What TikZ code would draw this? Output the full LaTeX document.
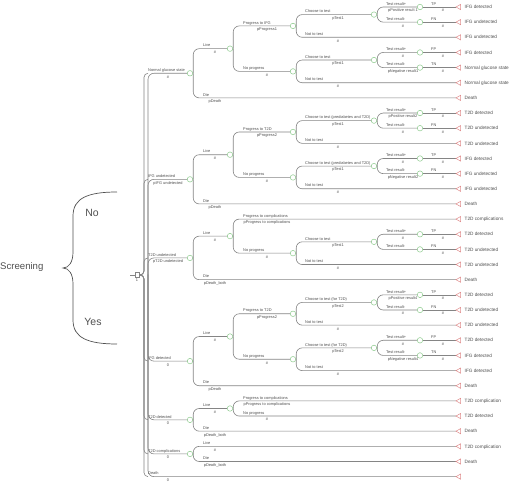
\documentclass[tikz,border=0pt]{standalone}
\usepackage{fontspec}
\setmainfont{Liberation Sans}
\definecolor{lg}{HTML}{858585}
\definecolor{tg}{HTML}{505050}
\definecolor{cg}{HTML}{8CCB8C}
\definecolor{tr}{HTML}{E08C8C}
% level geometry: label x, node x, probability centre x
\def\lxI{148}\def\nxI{190}\def\pcI{168}\def\vxI{144}
\def\lxII{203}\def\nxII{230}\def\pcII{215}
\def\lxIII{243}\def\nxIII{293}\def\pcIII{267}
\def\lxIV{305}\def\nxIV{374}\def\pcIV{338}
\def\lxV{386}\def\nxV{420}\def\pcV{403}
\def\lxVI{431}\def\pcVI{443}
\def\termx{456}
% chance branch: level, name, parent, y, label, prob
\newcommand\CB[6]{%
  \node[chance] (#2) at (\csname nx#1\endcsname,#4) {};
  \draw[ln] (#3.east) ++(0.25,0) |- (#2.west);
  \node[lab] at (\csname lx#1\endcsname,#4-1.8) {#5};
  \node[prb] at (\csname pc#1\endcsname,#4+4.9) {#6};
}
% terminal branch: level, name, parent, y, label, prob, end label
\newcommand\TB[7]{%
  \coordinate (#2) at (\termx,#4);
  \draw[ln] (#3.east) ++(0.25,0) |- (#2);
  \draw[tri] (#2) -- ++(4.6,-2.6) -- ++(0,5.2) -- cycle;
  \node[lab] at (\csname lx#1\endcsname,#4-1.8) {#5};
  \node[prb] at (\csname pc#1\endcsname,#4+4.9) {#6};
  \node[endl] at (\termx+8.5,#4+1.7) {#7};
}
% single straight branch after a test-result node
\newcommand\TS[6]{%
  \coordinate (#1) at (\termx,#3);
  \draw[ln] (#2.east) -- (#1);
  \draw[tri] (#1) -- ++(4.6,-2.6) -- ++(0,5.2) -- cycle;
  \node[lab] at (\lxVI,#3-1.8) {#4};
  \node[prb] at (\pcVI,#3+4.9) {#5};
  \node[endl] at (\termx+8.5,#3+1.7) {#6};
}
\begin{document}
\begin{tikzpicture}[x=1pt,y=-1pt,
  ln/.style={draw=lg,line width=0.6pt,rounded corners=6pt},
  rootln/.style={draw=lg,line width=0.6pt,rounded corners=4pt},
  chance/.style={circle,draw=cg,fill=white,line width=0.5pt,minimum size=5.5pt,inner sep=0pt},
  decis/.style={rectangle,draw=lg,fill=white,line width=0.5pt,minimum size=4.5pt,inner sep=0pt},
  tri/.style={draw=tr,fill=white,line width=0.5pt},
  lab/.style={anchor=base west,inner sep=0pt,font=\fontsize{3.9}{4.2}\selectfont,text=tg},
  prb/.style={anchor=base,inner sep=0pt,font=\fontsize{3.9}{4.2}\selectfont,text=tg},
  endl/.style={anchor=base west,inner sep=0pt,font=\fontsize{4.7}{5}\selectfont,text=tg},
  big/.style={inner sep=0pt,font=\fontsize{9.6}{11}\selectfont,text=tg},
  bigger/.style={inner sep=0pt,font=\fontsize{10.5}{12}\selectfont,text=tg},
  bracest/.style={draw=tg,line width=0.7pt}]
\useasboundingbox (0,0) rectangle (512,486);
\fill[white] (0,0) rectangle (512,486);

% Screening annotation
\node[big,anchor=west] (scr) at (0,267) {Screening};
\coordinate (btop) at (117,192);
\coordinate (btip) at (63,268);
\coordinate (bbot) at (117,344);
\draw[bracest] (btop) .. controls (88,192) and (73,198) .. (73,216)
  -- (73,252) .. controls (73,262) and (69,268) .. (btip)
  .. controls (69,268) and (73,274) .. (73,284)
  -- (73,320) .. controls (73,338) and (88,344) .. (bbot);
\node[bigger] (no) at (92,213) {No};
\node[bigger] (yes) at (93,322) {Yes};

% root decision node
\node[decis] (root) at (137,274.97) {};
\coordinate (rin) at (130,274.97);
\draw[draw=lg,line width=0.6pt] (rin) -- (root.west);
\node[prb] (rootv) at (137,281.5) {1};

\draw[rootln] (root.east) -| (\vxI,73.28) -- (\lxI,73.28);
\draw[rootln] (root.east) -| (\vxI,179.33) -- (\lxI,179.33);
\draw[rootln] (root.east) -| (\vxI,257.92) -- (\lxI,257.92);
\draw[rootln] (root.east) -| (\vxI,361.13) -- (\lxI,361.13);
\draw[rootln] (root.east) -| (\vxI,419.84) -- (\lxI,419.84);
\draw[rootln] (root.east) -| (\vxI,453.93) -- (\lxI,453.93);
\draw[rootln] (root.east) -| (\vxI,476.65) -- (\lxI,476.65);
\coordinate (rootc) at (147.75,274.97);
\CB{I}{A}{rootc}{73.28}{Normal glucose state}{\#}
\CB{I}{B}{rootc}{179.33}{IFG undetected}{pIFG undetected}
\CB{I}{C}{rootc}{257.92}{T2D undetected}{pT2D undetected}
\CB{I}{D}{rootc}{361.13}{IFG detected}{0}
\CB{I}{E}{rootc}{419.84}{T2D detected}{0}
\CB{I}{F}{rootc}{453.93}{T2D complications}{0}
\TB{I}{G}{rootc}{476.65}{Death}{0}{}

% ---- group A
\CB{II}{Al}{A}{48.66}{Live}{\#}
\CB{III}{Ap}{Al}{25.94}{Progress to IFG}{pProgress1}
\CB{IV}{Apt}{Ap}{14.58}{Choose to test}{pTest1}
\CB{V}{Aptp}{Apt}{7}{Test result+}{pPositive result 1}
\TS{Aptpx}{Aptp}{7}{TP}{\#}{IFG detected}
\CB{V}{Aptn}{Apt}{22.15}{Test result-}{\#}
\TS{Aptnx}{Aptn}{22.15}{FN}{\#}{IFG undetected}
\TB{IV}{Apn}{Ap}{37.3}{Not to test}{\#}{IFG undetected}
\CB{III}{An}{Al}{71.39}{No progress}{\#}
\CB{IV}{Ant}{An}{60.03}{Choose to test}{pTest1}
\CB{V}{Antp}{Ant}{52.45}{Test result+}{\#}
\TS{Antpx}{Antp}{52.45}{FP}{\#}{IFG detected}
\CB{V}{Antn}{Ant}{67.6}{Test result-}{pNegative result1}
\TS{Antnx}{Antn}{67.6}{TN}{\#}{Normal glucose state}
\TB{IV}{Ann}{An}{82.75}{Not to test}{\#}{Normal glucose state}
\TB{II}{Ad}{A}{97.9}{Die}{pDeath}{Death}

% ---- group B
\CB{II}{Bl}{B}{154.71}{Live}{\#}
\CB{III}{Bp}{Bl}{131.99}{Progress to T2D}{pProgress2}
\CB{IV}{Bpt}{Bp}{120.63}{Choose to test (prediabetes and T2D)}{pTest1}
\CB{V}{Bptp}{Bpt}{113.05}{Test result+}{pPositive result2}
\TS{Bptpx}{Bptp}{113.05}{TP}{\#}{T2D detected}
\CB{V}{Bptn}{Bpt}{128.2}{Test result-}{\#}
\TS{Bptnx}{Bptn}{128.2}{FN}{\#}{T2D undetected}
\TB{IV}{Bpn}{Bp}{143.35}{Not to test}{\#}{T2D undetected}
\CB{III}{Bn}{Bl}{177.44}{No progress}{\#}
\CB{IV}{Bnt}{Bn}{166.08}{Choose to test (prediabetes and T2D)}{pTest1}
\CB{V}{Bntp}{Bnt}{158.5}{Test result+}{\#}
\TS{Bntpx}{Bntp}{158.5}{TP}{\#}{IFG detected}
\CB{V}{Bntn}{Bnt}{173.65}{Test result-}{pNegative result2}
\TS{Bntnx}{Bntn}{173.65}{FN}{\#}{IFG undetected}
\TB{IV}{Bnn}{Bn}{188.8}{Not to test}{\#}{IFG undetected}
\TB{II}{Bd}{B}{203.95}{Die}{pDeath}{Death}

% ---- group C
\CB{II}{Cl}{C}{236.14}{Live}{\#}
\TB{III}{Cp}{Cl}{219.1}{Progress to complications}{pProgress to complications}{T2D complications}
\CB{III}{Cn}{Cl}{253.19}{No progress}{\#}
\CB{IV}{Cnt}{Cn}{241.83}{Choose to test}{pTest1}
\CB{V}{Cntp}{Cnt}{234.25}{Test result+}{\#}
\TS{Cntpx}{Cntp}{234.25}{TP}{\#}{T2D detected}
\CB{V}{Cntn}{Cnt}{249.4}{Test result-}{}
\TS{Cntnx}{Cntn}{249.4}{FN}{\#}{T2D undetected}
\TB{IV}{Cnn}{Cn}{264.55}{Not to test}{\#}{T2D undetected}
\TB{II}{Cd}{C}{279.7}{Die}{pDeath\_both}{Death}

% ---- group D
\CB{II}{Dl}{D}{336.51}{Live}{\#}
\CB{III}{Dp}{Dl}{313.79}{Progress to T2D}{pProgress2}
\CB{IV}{Dpt}{Dp}{302.43}{Choose to test (for T2D)}{pTest2}
\CB{V}{Dptp}{Dpt}{294.85}{Test result+}{pPositive result4}
\TS{Dptpx}{Dptp}{294.85}{TP}{\#}{T2D detected}
\CB{V}{Dptn}{Dpt}{310}{Test result-}{\#}
\TS{Dptnx}{Dptn}{310}{FN}{\#}{T2D undetected}
\TB{IV}{Dpn}{Dp}{325.15}{Not to test}{\#}{T2D undetected}
\CB{III}{Dn}{Dl}{359.24}{No progress}{\#}
\CB{IV}{Dnt}{Dn}{347.88}{Choose to test (for T2D)}{pTest2}
\CB{V}{Dntp}{Dnt}{340.3}{Test result+}{\#}
\TS{Dntpx}{Dntp}{340.3}{FP}{\#}{T2D detected}
\CB{V}{Dntn}{Dnt}{355.45}{Test result-}{pNegative result4}
\TS{Dntnx}{Dntn}{355.45}{TN}{\#}{IFG detected}
\TB{IV}{Dnn}{Dn}{370.6}{Not to test}{\#}{IFG detected}
\TB{II}{Dd}{D}{385.75}{Die}{pDeath}{Death}

% ---- group E
\CB{II}{El}{E}{408.48}{Live}{\#}
\TB{III}{Ep}{El}{400.9}{Progress to complications}{pProgress to complications}{T2D complication}
\TB{III}{En}{El}{416.05}{No progress}{\#}{T2D detected}
\TB{II}{Ed}{E}{431.2}{Die}{pDeath\_both}{Death}

% ---- group F
\TB{II}{Fl}{F}{446.35}{Live}{\#}{T2D complication}
\TB{II}{Fd}{F}{461.5}{Die}{pDeath\_both}{Death}
\end{tikzpicture}
\end{document}
